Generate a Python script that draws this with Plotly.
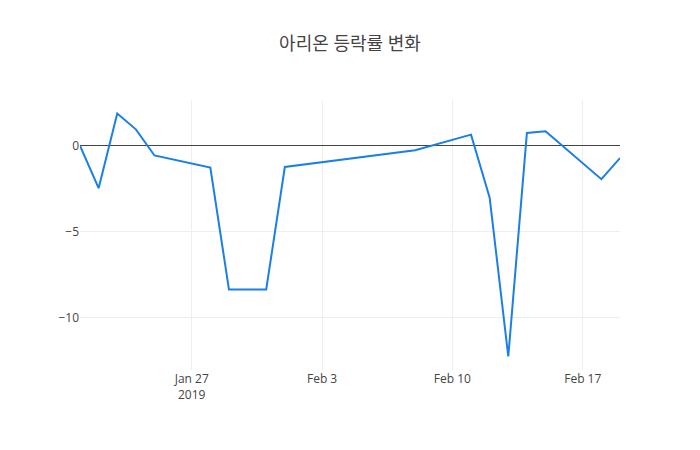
import plotly.graph_objects as go

dates = ["2019-01-21", "2019-01-22", "2019-01-23", "2019-01-24", "2019-01-25",
         "2019-01-28", "2019-01-29", "2019-01-30", "2019-01-31", "2019-02-01",
         "2019-02-08", "2019-02-11", "2019-02-12", "2019-02-13", "2019-02-14",
         "2019-02-15", "2019-02-18", "2019-02-19"]
change = [0.0, -2.47, 1.87, 0.95, -0.57,
          -1.27, -8.37, -8.37, -8.37, -1.24,
          -0.27, 0.64, -3.02, -12.26, 0.74,
          0.84, -1.95, -0.72]

title_text = "아리온 등락률 변화"

fig = go.Figure()
fig.add_trace(go.Scatter(x=dates, y=change, mode="lines",
                         line=dict(color="#1a7fe6", width=2)))
fig.update_layout(
    template="none",
    width=700, height=450,
    title=dict(text=title_text, x=0.5, xanchor="center",
               font=dict(size=18, color="#444", family="Open Sans, Noto Sans CJK KR")),
    font=dict(family="Open Sans, Noto Sans CJK KR", color="#444", size=12),
    paper_bgcolor="white", plot_bgcolor="white",
    margin=dict(l=80, r=80, t=100, b=80),
    showlegend=False,
    xaxis=dict(gridcolor="#eee", showline=False, zeroline=False, ticks=""),
    yaxis=dict(gridcolor="#eee", zeroline=True, zerolinecolor="#444",
               zerolinewidth=1, showline=False, ticks=""),
)
fig.write_html("out.html")
